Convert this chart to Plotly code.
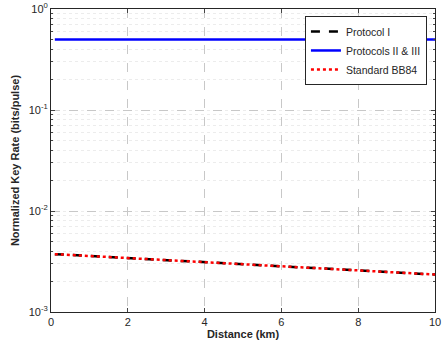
import plotly.graph_objects as go

distance_km = [0.1, 1, 2, 3, 4, 5, 6, 7, 8, 9, 10]
protocol_1 = [0.00374, 0.00358, 0.00342, 0.00326, 0.00311, 0.00297, 0.00283, 0.00270, 0.00258, 0.00246, 0.00235]
protocols_2_3 = [0.5, 0.5, 0.5, 0.5, 0.5, 0.5, 0.5, 0.5, 0.5, 0.5, 0.5]
standard_bb84 = [0.00374, 0.00358, 0.00342, 0.00326, 0.00311, 0.00297, 0.00283, 0.00270, 0.00258, 0.00246, 0.00235]

y_tick_vals = [0.001, 0.01, 0.1, 1]
y_tick_text = ["10<sup>-3</sup>", "10<sup>-2</sup>", "10<sup>-1</sup>", "10<sup>0</sup>"]
x_tick_vals = [0, 2, 4, 6, 8, 10]

font = "Liberation Sans, Arial, sans-serif"

fig = go.Figure()
fig.add_trace(go.Scatter(x=distance_km, y=protocol_1, mode="lines", name="Protocol I",
                         line=dict(color="black", width=2.5, dash="dash")))
fig.add_trace(go.Scatter(x=distance_km, y=protocols_2_3, mode="lines", name="Protocols II & III",
                         line=dict(color="#0000ff", width=2.5)))
fig.add_trace(go.Scatter(x=distance_km, y=standard_bb84, mode="lines", name="Standard BB84",
                         line=dict(color="#ff0000", width=2.5, dash="dot")))

fig.update_layout(
    width=442, height=347,
    margin=dict(l=51, r=7, t=9, b=35),
    paper_bgcolor="white", plot_bgcolor="white",
    font=dict(family=font, size=11, color="#262626"),
    showlegend=True,
    legend=dict(x=0.979, y=0.977, xanchor="right", yanchor="top",
                bgcolor="white", bordercolor="#262626", borderwidth=1,
                font=dict(size=10.5, color="#262626"), tracegroupgap=0,
                itemwidth=30),
)
fig.update_xaxes(
    range=[0, 10], tickvals=x_tick_vals, ticks="inside", ticklen=4,
    showline=True, linecolor="#262626", linewidth=1, mirror="ticks",
    showgrid=True, gridcolor="#c8c8c8", griddash="dash", gridwidth=1,
    zeroline=False, tickfont=dict(size=11), ticklabeloverflow="allow",
    automargin=False,
    title=dict(text="<b>Distance (km)</b>", standoff=3, font=dict(size=11)),
)
fig.update_yaxes(
    type="log", range=[-3, 0], tickvals=y_tick_vals, ticktext=y_tick_text,
    ticks="inside", ticklen=4,
    showline=True, linecolor="#262626", linewidth=1, mirror="ticks",
    showgrid=True, gridcolor="#c8c8c8", griddash="dash", gridwidth=1,
    zeroline=False, tickfont=dict(size=11), ticklabeloverflow="allow",
    automargin=False,
    minor=dict(dtick="D1", ticks="inside", ticklen=2, showgrid=True,
               gridcolor="#ececec", griddash="dot", gridwidth=1),
    title=dict(text="<b>Normalized Key Rate (bits/pulse)</b>", standoff=6, font=dict(size=11)),
)

fig.write_html("out.html", config={"displayModeBar": False},
               post_script="document.body.style.margin='0px';")
